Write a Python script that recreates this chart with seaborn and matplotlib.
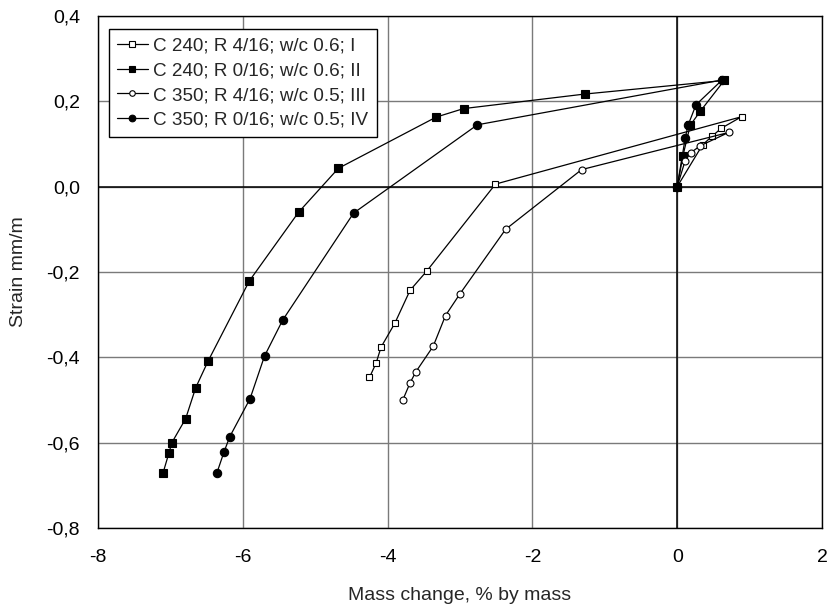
import matplotlib
matplotlib.use("Agg")
import matplotlib.pyplot as plt
import seaborn as sns
import pandas as pd

# Mass change (% by mass) and strain (mm/m) for each mix
mass_I = [0, 0.35, 0.48, 0.61, 0.89, -2.51, -3.46, -3.69, -3.90, -4.09, -4.16, -4.25]
strain_I = [0, 0.098, 0.118, 0.137, 0.164, 0.006, -0.198, -0.243, -0.320, -0.376, -0.414, -0.447]

mass_II = [0, 0.08, 0.18, 0.32, 0.65, -1.28, -2.95, -3.33, -4.68, -5.23, -5.91, -6.48,
           -6.65, -6.79, -6.98, -7.02, -7.10]
strain_II = [0, 0.073, 0.144, 0.177, 0.249, 0.217, 0.183, 0.163, 0.043, -0.060, -0.221,
             -0.409, -0.471, -0.544, -0.600, -0.624, -0.670]

mass_III = [0, 0.11, 0.19, 0.32, 0.71, -1.32, -2.37, -3.00, -3.20, -3.37, -3.61, -3.69, -3.79]
strain_III = [0, 0.061, 0.080, 0.096, 0.127, 0.040, -0.100, -0.251, -0.302, -0.374, -0.434,
              -0.460, -0.500]

mass_IV = [0, 0.11, 0.15, 0.26, 0.62, -2.76, -4.47, -5.45, -5.70, -5.90, -6.18, -6.26, -6.36]
strain_IV = [0, 0.113, 0.144, 0.192, 0.250, 0.145, -0.062, -0.313, -0.397, -0.497, -0.586,
             -0.622, -0.672]

series_labels = ["C 240; R 4/16; w/c 0.6; I", "C 240; R 0/16; w/c 0.6; II",
                 "C 350; R 4/16; w/c 0.5; III", "C 350; R 0/16; w/c 0.5; IV"]

x_ticks = [-8, -6, -4, -2, 0, 2]
y_ticks = [-0.8, -0.6, -0.4, -0.2, 0.0, 0.2, 0.4]

sns.set_theme(style="white")
plt.rcParams["font.family"] = ["Liberation Sans", "DejaVu Sans"]
plt.rcParams["axes.unicode_minus"] = False

FS = 14

fig = plt.figure(figsize=(8.28, 6.12), dpi=100)
ax = fig.add_axes([98 / 828, 84 / 612, 724 / 828, 512 / 612])

styles = [
    dict(marker="s", markersize=5.0, markerfacecolor="white"),
    dict(marker="s", markersize=6.0, markerfacecolor="black"),
    dict(marker="o", markersize=5.0, markerfacecolor="white"),
    dict(marker="o", markersize=6.0, markerfacecolor="black"),
]
data = [(mass_I, strain_I), (mass_II, strain_II), (mass_III, strain_III), (mass_IV, strain_IV)]

for (mx, sy), lab, st in zip(data, series_labels, styles):
    df = pd.DataFrame({"mass": mx, "strain": sy})
    sns.lineplot(data=df, x="mass", y="strain", sort=False, estimator=None, ax=ax,
                 color="black", linewidth=0.9, markeredgecolor="black",
                 markeredgewidth=0.8, label=lab, zorder=3, **st)

ax.set_xlim(-8, 2)
ax.set_ylim(-0.8, 0.4)
ax.set_xticks(x_ticks)
ax.set_yticks(y_ticks)
ax.set_xticklabels([f"{t:d}" for t in x_ticks])
ax.set_yticklabels([f"{t:.1f}".replace(".", ",") for t in y_ticks])

ax.grid(True, color="#7a7a7a", linewidth=1.0, zorder=0)
ax.axhline(0, color="black", linewidth=1.1, zorder=1)
ax.axvline(0, color="black", linewidth=1.1, zorder=1)

for sp in ax.spines.values():
    sp.set_color("black")
    sp.set_linewidth(1.0)

ax.tick_params(axis="both", length=0, labelsize=FS, colors="black")
ax.tick_params(axis="x", pad=15)
ax.tick_params(axis="y", pad=13)
ax.set_xlabel("Mass change, % by mass", fontsize=FS, labelpad=15)
ax.set_ylabel("Strain mm/m", fontsize=FS, labelpad=14)

leg = ax.legend(loc="upper left", bbox_to_anchor=(0.015, 0.975), borderaxespad=0,
                fontsize=13.6, frameon=True, fancybox=False, edgecolor="black",
                framealpha=1, handlelength=1.6, handletextpad=0.3,
                labelspacing=0.4, borderpad=0.45, markerscale=0.8)
leg.get_frame().set_linewidth(1.0)

fig.savefig("out.png", dpi=100)
